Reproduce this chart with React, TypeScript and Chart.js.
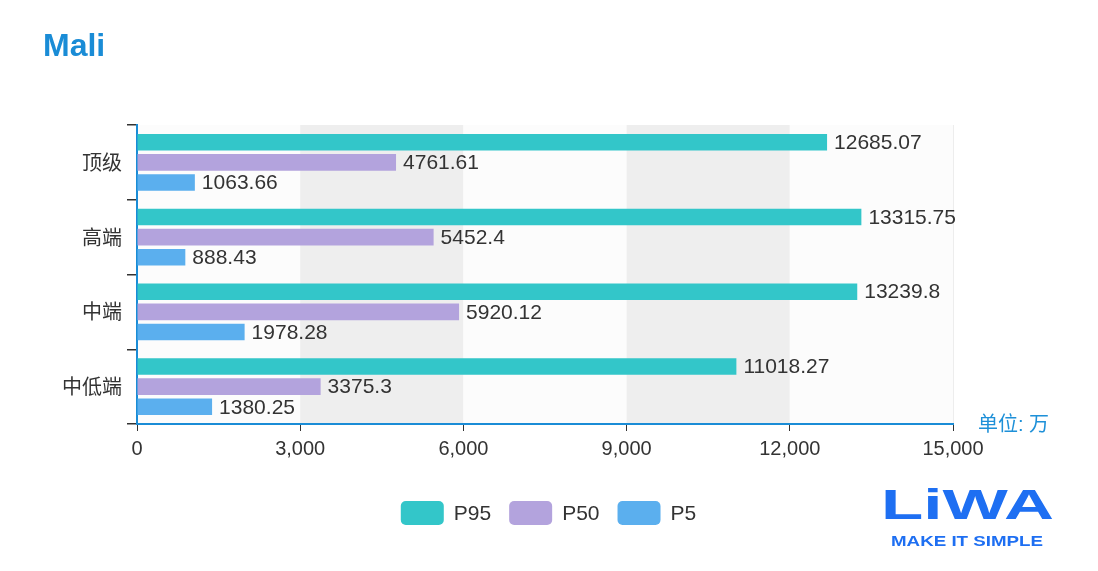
import React, { useEffect, useRef } from 'react';
import { Chart, registerables } from 'chart.js';

Chart.register(...registerables);

const TITLE = 'Mali';
const UNIT_LABEL = '单位: 万';
const categories = ['顶级', '高端', '中端', '中低端'];
const seriesNames = ['P95', 'P50', 'P5'];
const p95Values = [12685.07, 13315.75, 13239.8, 11018.27];
const p50Values = [4761.61, 5452.4, 5920.12, 3375.3];
const p5Values = [1063.66, 888.43, 1978.28, 1380.25];
const seriesColors = ['#33C6C9', '#B3A3DD', '#5BAFEE'];
const xMin = 0;
const xMax = 15000;
const xStep = 3000;
const LOGO_TEXT = 'LiWA';
const LOGO_TAGLINE = 'MAKE IT SIMPLE';

const FONT = "'Liberation Sans', 'Noto Sans CJK SC', sans-serif";
const AXIS_BLUE = '#1A8CD6';
const TEXT = '#333333';

const splitAreaPlugin = {
  id: 'splitArea',
  beforeDraw(chart: any) {
    const { ctx, chartArea, scales } = chart;
    const x = scales.x;
    const ticks = x.ticks;
    ctx.save();
    for (let i = 0; i < ticks.length - 1; i++) {
      const a = x.getPixelForValue(ticks[i].value);
      const b = x.getPixelForValue(ticks[i + 1].value);
      ctx.fillStyle = i % 2 === 0 ? '#FCFCFC' : '#EEEEEE';
      ctx.fillRect(a, chartArea.top, b - a, chartArea.bottom - chartArea.top);
    }
    ctx.strokeStyle = '#EDEDED';
    ctx.lineWidth = 1;
    ctx.beginPath();
    ctx.moveTo(chartArea.right + 0.5, chartArea.top);
    ctx.lineTo(chartArea.right + 0.5, chartArea.bottom);
    ctx.stroke();
    ctx.restore();
  },
};

const valueLabelPlugin = {
  id: 'valueLabels',
  afterDatasetsDraw(chart: any) {
    const { ctx } = chart;
    ctx.save();
    ctx.font = `21px ${FONT}`;
    ctx.fillStyle = TEXT;
    ctx.textBaseline = 'middle';
    ctx.textAlign = 'left';
    chart.data.datasets.forEach((ds: any, di: number) => {
      const meta = chart.getDatasetMeta(di);
      meta.data.forEach((el: any, i: number) => {
        ctx.fillText(String(ds.data[i]), el.x + 7, el.y + 1);
      });
    });
    ctx.restore();
  },
};

const decorPlugin = {
  id: 'decor',
  afterDraw(chart: any) {
    const { ctx, chartArea } = chart;
    ctx.save();
    // title
    ctx.font = `bold 32px ${FONT}`;
    ctx.fillStyle = '#1A8CD6';
    ctx.textBaseline = 'alphabetic';
    ctx.textAlign = 'left';
    ctx.fillText(TITLE, 43, 56);

    // unit label
    ctx.font = `20px ${FONT}`;
    ctx.fillStyle = '#1E90D8';
    ctx.textBaseline = 'middle';
    ctx.fillText(UNIT_LABEL, chartArea.right + 25, chartArea.bottom + 1);

    // legend
    const boxW = 43;
    const boxH = 24;
    const gapText = 10;
    const gapItem = 18;
    ctx.font = `21px ${FONT}`;
    const items = chart.data.datasets.map((ds: any) => ({
      label: ds.label,
      color: ds.backgroundColor,
      w: ctx.measureText(ds.label).width,
    }));
    let total = 0;
    items.forEach((it: any, i: number) => {
      total += boxW + gapText + it.w + (i < items.length - 1 ? gapItem : 0);
    });
    let lx = 548.5 - total / 2;
    const ly = 501;
    items.forEach((it: any) => {
      ctx.fillStyle = it.color;
      ctx.beginPath();
      (ctx as any).roundRect(lx, ly, boxW, boxH, 5);
      ctx.fill();
      ctx.fillStyle = TEXT;
      ctx.textBaseline = 'middle';
      ctx.fillText(it.label, lx + boxW + gapText, ly + boxH / 2 + 1);
      lx += boxW + gapText + it.w + gapItem;
    });

    // logo
    ctx.fillStyle = '#1E6FF2';
    ctx.textBaseline = 'alphabetic';
    ctx.font = `bold 43px ${FONT}`;
    const lw = ctx.measureText(LOGO_TEXT).width;
    ctx.save();
    ctx.translate(881, 519);
    ctx.scale(173 / lw, 1);
    ctx.fillText(LOGO_TEXT, 0, 0);
    ctx.restore();
    ctx.font = `bold 14px ${FONT}`;
    const tw = ctx.measureText(LOGO_TAGLINE).width;
    ctx.save();
    ctx.translate(891, 546);
    ctx.scale(152 / tw, 1);
    ctx.fillText(LOGO_TAGLINE, 0, 0);
    ctx.restore();

    ctx.restore();
  },
};

export default function App() {
  const ref = useRef<HTMLCanvasElement>(null);

  useEffect(() => {
    if (!ref.current) return;
    const seriesData = [p95Values, p50Values, p5Values];
    const chart = new Chart(ref.current, {
      type: 'bar',
      data: {
        labels: categories,
        datasets: seriesNames.map((name, i) => ({
          label: name,
          data: seriesData[i],
          backgroundColor: seriesColors[i],
          borderWidth: 0,
          categoryPercentage: 0.81,
          barPercentage: 0.82,
        })),
      },
      options: {
        indexAxis: 'y',
        responsive: false,
        animation: false,
        events: [],
        layout: { padding: { top: 125, right: 145, bottom: 107, left: 0 } },
        plugins: {
          legend: { display: false },
          tooltip: { enabled: false },
          title: { display: false },
        },
        scales: {
          x: {
            type: 'linear',
            min: xMin,
            max: xMax,
            ticks: {
              stepSize: xStep,
              color: TEXT,
              font: { size: 20, family: FONT },
              padding: 6,
              maxRotation: 0,
              callback: (v: any) => Number(v).toLocaleString('en-US'),
            },
            grid: {
              drawOnChartArea: false,
              drawTicks: true,
              tickLength: 7,
              color: TEXT,
              lineWidth: 1,
            },
            border: { color: AXIS_BLUE, width: 2 },
            afterFit: (s: any) => {
              s.height = 40;
            },
          },
          y: {
            type: 'category',
            ticks: {
              color: TEXT,
              font: { size: 20, family: FONT },
              padding: 5,
              labelOffset: 2,
            },
            grid: {
              offset: true,
              drawOnChartArea: false,
              drawTicks: true,
              tickLength: 10,
              color: TEXT,
              lineWidth: 1.5,
            },
            border: { color: AXIS_BLUE, width: 2 },
            afterFit: (s: any) => {
              s.width = 137;
            },
          },
        },
      } as any,
      plugins: [splitAreaPlugin, valueLabelPlugin, decorPlugin],
    });
    return () => chart.destroy();
  }, []);

  return (
    <div
      style={{
        position: 'fixed',
        left: 0,
        top: 0,
        width: 1098,
        height: 571,
        background: '#ffffff',
      }}
    >
      <canvas ref={ref} width={1098} height={571} style={{ width: 1098, height: 571, display: 'block' }} />
    </div>
  );
}
